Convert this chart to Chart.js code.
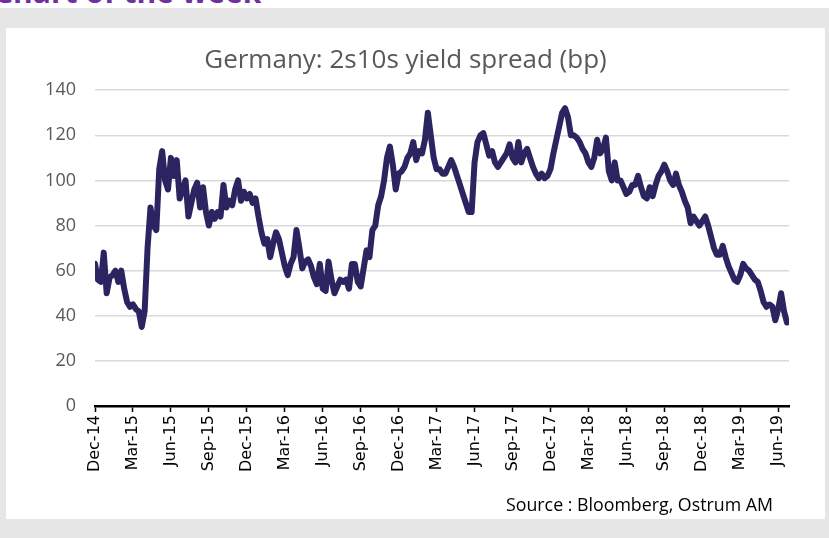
<!DOCTYPE html>
<html>
<head>
<meta charset="utf-8">
<script src="https://cdn.jsdelivr.net/npm/chart.js@4"></script>
<style>
  body { margin: 0; width: 829px; height: 538px; background: #fff; overflow: hidden; position: relative; font-family: "Open Sans", sans-serif; }
  #kicker { position: absolute; left: -6px; top: -23px; font: bold 30px "Open Sans", sans-serif; color: #7030a0; line-height: 30px; white-space: nowrap; }
  #band { position: absolute; left: 0; top: 8px; width: 829px; height: 530px; background: #e6e6e6; }
  #panel { position: absolute; left: 6px; top: 28px; width: 819px; height: 491px; background: #fff; }
  #chart { position: absolute; left: 0; top: 0; }
  #source { position: absolute; right: 52px; top: 464px; font-size: 17.8px; color: #000; }
</style>
</head>
<body>
<div id="kicker">Chart of the week</div>
<div id="band"></div>
<div id="panel">
  <canvas id="chart" width="819" height="491"></canvas>
  <div id="source">Source : Bloomberg, Ostrum AM</div>
</div>
<script>
// quarterly tick labels, one every 13 weeks starting Dec-14
const quarterLabels = ['Dec-14', 'Mar-15', 'Jun-15', 'Sep-15', 'Dec-15', 'Mar-16', 'Jun-16', 'Sep-16',
  'Dec-16', 'Mar-17', 'Jun-17', 'Sep-17', 'Dec-17', 'Mar-18', 'Jun-18', 'Sep-18', 'Dec-18', 'Mar-19', 'Jun-19'];
const weeksPerQuarter = 13;

// weekly 2s10s spread (bp), from early Dec 2014 to mid Jul 2019
const spread = [
  63, 56, 55, 68, 50, 57, 58, 60, 55, 60, 52, 46, 44, 45, 43, 42, 35, 42, 70, 88,
  80, 78, 105, 113, 100, 96, 110, 102, 109, 92, 96, 100, 84, 90, 96, 99, 88, 97, 86, 80,
  86, 83, 86, 84, 98, 88, 91, 89, 96, 100, 91, 95, 92, 94, 90, 92, 84, 77, 72, 74,
  66, 72, 77, 74, 68, 62, 58, 63, 66, 78, 70, 61, 64, 65, 62, 57, 54, 63, 52, 51,
  64, 56, 50, 53, 56, 55, 56, 52, 63, 63, 55, 53, 61, 69, 66, 78, 80, 89, 93, 100,
  110, 115, 107, 96, 103, 104, 106, 110, 112, 117, 109, 113, 112, 118, 130, 120, 110, 105, 105, 103,
  103, 106, 109, 106, 102, 98, 94, 90, 86, 86, 108, 117, 120, 121, 116, 111, 113, 108, 106, 108,
  110, 112, 116, 110, 108, 117, 108, 112, 114, 110, 106, 103, 101, 103, 101, 102, 105, 112, 118, 124,
  130, 132, 128, 120, 120, 119, 117, 114, 112, 108, 106, 110, 118, 112, 114, 119, 104, 100, 108, 100,
  100, 97, 94, 95, 98, 98, 102, 97, 93, 92, 97, 93, 98, 102, 104, 107, 104, 100, 98, 103,
  98, 95, 91, 88, 81, 84, 82, 80, 82, 84, 80, 75, 70, 67, 67, 71, 66, 62, 59, 56,
  55, 58, 63, 61, 60, 58, 56, 55, 51, 46, 44, 45, 44, 38, 43, 50, 42, 37
];

const yTicks = { min: 0, max: 140, step: 20 };

const points = spread.map((v, i) => ({ x: i, y: v }));

new Chart(document.getElementById('chart'), {
  type: 'line',
  data: {
    datasets: [{
      data: points,
      borderColor: '#2a2560',
      borderWidth: 6,
      pointRadius: 0,
      tension: 0,
      borderJoinStyle: 'round',
      borderCapStyle: 'round'
    }]
  },
  options: {
    responsive: false,
    animation: false,
    layout: { padding: { left: 16, right: 36, top: 0, bottom: 0 } },
    plugins: {
      legend: { display: false },
      tooltip: { enabled: false },
      title: {
        display: true,
        text: 'Germany: 2s10s yield spread (bp)',
        color: '#595959',
        font: { family: 'Open Sans', size: 26, weight: 'normal' },
        padding: { top: 17, bottom: 14 }
      }
    },
    scales: {
      x: {
        type: 'linear',
        min: 0,
        max: 237.7,
        afterBuildTicks: function(scale) {
          scale.ticks = quarterLabels.map((l, i) => ({ value: i * weeksPerQuarter }));
        },
        afterFit: function(scale) { scale.height = 113; },
        ticks: {
          autoSkip: false,
          minRotation: 90,
          maxRotation: 90,
          padding: 3,
          color: '#000',
          font: { family: 'DejaVu Sans', size: 16 },
          callback: function(value, index) { return quarterLabels[index]; }
        },
        grid: { drawOnChartArea: false, drawTicks: true, tickLength: 6, tickColor: '#000', tickWidth: 1.5 },
        border: { display: true, color: '#000', width: 2.5 }
      },
      y: {
        min: yTicks.min,
        max: yTicks.max,
        afterFit: function(scale) { scale.width = 73; },
        ticks: {
          stepSize: yTicks.step,
          padding: 19,
          color: '#595959',
          font: { family: 'Open Sans', size: 18 }
        },
        grid: { color: '#d9d9d9', lineWidth: 1.5, drawTicks: false },
        border: { display: false }
      }
    }
  }
});
</script>
</body>
</html>
